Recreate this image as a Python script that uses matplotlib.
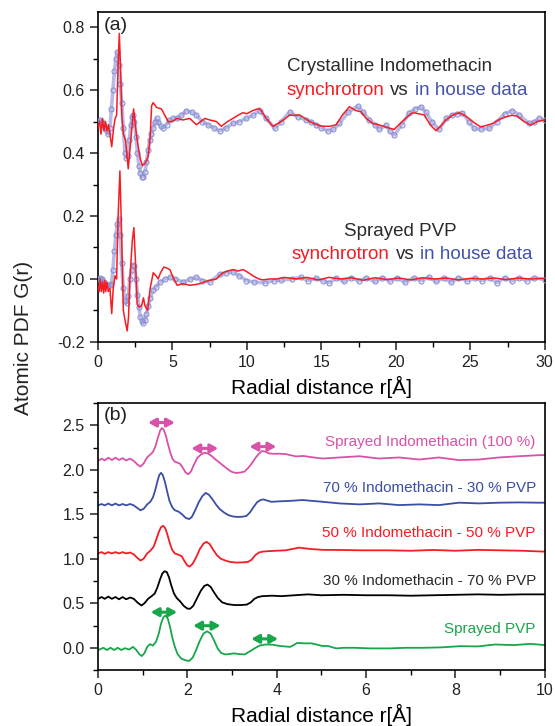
import matplotlib
matplotlib.use("Agg")
import matplotlib.pyplot as plt
from matplotlib.ticker import MultipleLocator, FormatStrFormatter

plt.rcParams['font.family'] = ['Liberation Sans', 'DejaVu Sans']

# ---- panel (a): crystalline indomethacin, synchrotron vs in house ----
cry_syn_r = [0.0, 0.1, 0.2, 0.3, 0.4, 0.5, 0.6, 0.7, 0.8, 0.92, 1.05, 1.15, 1.25, 1.35, 1.43, 1.52, 1.6, 1.7,
             1.85, 2.03, 2.2, 2.39, 2.55, 2.7, 2.85, 2.99, 3.2, 3.37, 3.5, 3.6, 3.7, 3.93, 4.26, 4.71, 5.0, 5.29,
             5.7, 6.16, 6.6, 6.9, 7.17, 7.5, 7.95, 8.28, 8.7, 9.06, 9.4, 9.73, 10.0, 10.4, 10.85, 11.3, 11.74,
             12.3, 12.86, 13.2, 13.53, 13.9, 14.2, 14.7, 15.09, 15.6, 15.99, 16.4, 16.88, 17.3, 17.66, 18.0,
             18.44, 18.8, 19.1, 19.5, 19.89, 20.3, 20.67, 21.0, 21.23, 21.5, 21.9, 22.3, 22.69, 23.0, 23.36,
             23.8, 24.25, 24.6, 24.9, 25.3, 25.7, 26.1, 26.5, 27.0, 27.4, 27.8, 28.15, 28.6, 29.05, 29.5, 30.0]
cry_syn_g = [0.48, 0.50, 0.46, 0.51, 0.47, 0.50, 0.47, 0.49, 0.46, 0.42, 0.48, 0.51, 0.52, 0.68, 0.78, 0.66, 0.52,
             0.46, 0.44, 0.35, 0.44, 0.54, 0.47, 0.42, 0.38, 0.36, 0.37, 0.39, 0.45, 0.55, 0.56, 0.545, 0.54, 0.50,
             0.50, 0.51, 0.505, 0.51, 0.49, 0.50, 0.51, 0.505, 0.50, 0.485, 0.50, 0.51, 0.52, 0.528, 0.525, 0.535,
             0.542, 0.51, 0.485, 0.50, 0.52, 0.52, 0.521, 0.51, 0.50, 0.49, 0.485, 0.485, 0.49, 0.52, 0.547, 0.535,
             0.531, 0.51, 0.494, 0.49, 0.486, 0.48, 0.475, 0.495, 0.51, 0.525, 0.528, 0.525, 0.521, 0.49, 0.471,
             0.485, 0.505, 0.52, 0.528, 0.52, 0.51, 0.495, 0.483, 0.488, 0.494, 0.508, 0.515, 0.52, 0.517, 0.50,
             0.489, 0.50, 0.505]

cry_lab_r = [0.0, 0.1, 0.2, 0.3, 0.4, 0.5, 0.6, 0.7, 0.8, 0.9, 1.0, 1.1, 1.2, 1.29, 1.4, 1.5, 1.59, 1.7, 1.81,
             1.9, 2.0, 2.1, 2.2, 2.3, 2.37, 2.45, 2.55, 2.65, 2.75, 2.85, 2.95, 3.04, 3.15, 3.25, 3.37, 3.48,
             3.59, 3.7, 3.8, 3.93, 4.05, 4.2, 4.38, 4.6, 4.8, 5.05, 5.3, 5.6, 5.94, 6.3, 6.61, 7.0, 7.39, 7.8,
             8.17, 8.6, 9.06, 9.5, 9.96, 10.4, 10.85, 11.3, 11.86, 12.3, 12.86, 13.42, 13.98, 14.3, 14.65, 15.0,
             15.43, 15.8, 16.21, 16.8, 17.44, 17.8, 18.22, 18.6, 18.89, 19.34, 19.6, 19.89, 20.4, 20.9, 21.3,
             21.68, 22.0, 22.4, 22.9, 23.4, 23.8, 24.1, 24.47, 24.9, 25.25, 25.7, 26.26, 26.8, 27.3, 27.82, 28.3,
             28.94, 29.3, 29.6, 30.0]
cry_lab_g = [0.50, 0.505, 0.50, 0.50, 0.49, 0.48, 0.47, 0.46, 0.48, 0.54, 0.60, 0.66, 0.70, 0.72, 0.68, 0.62,
             0.56, 0.48, 0.40, 0.385, 0.39, 0.44, 0.49, 0.515, 0.52, 0.50, 0.45, 0.40, 0.36, 0.335, 0.325, 0.325,
             0.34, 0.37, 0.41, 0.44, 0.46, 0.48, 0.50, 0.51, 0.50, 0.485, 0.48, 0.49, 0.505, 0.51, 0.51, 0.52,
             0.535, 0.53, 0.52, 0.50, 0.49, 0.48, 0.47, 0.48, 0.494, 0.50, 0.51, 0.52, 0.535, 0.51, 0.478, 0.50,
             0.53, 0.515, 0.505, 0.50, 0.489, 0.48, 0.47, 0.475, 0.494, 0.53, 0.549, 0.53, 0.505, 0.49, 0.475,
             0.489, 0.47, 0.457, 0.49, 0.528, 0.54, 0.547, 0.53, 0.50, 0.475, 0.51, 0.521, 0.525, 0.528, 0.50,
             0.478, 0.476, 0.478, 0.50, 0.525, 0.535, 0.52, 0.494, 0.50, 0.51, 0.505]

# ---- panel (a): sprayed PVP ----
pvp_syn_r = [0.0, 0.08, 0.15, 0.22, 0.3, 0.38, 0.45, 0.52, 0.6, 0.69, 0.8, 0.92, 1.02, 1.14, 1.25, 1.35, 1.47,
             1.58, 1.7, 1.85, 1.96, 2.05, 2.14, 2.3, 2.41, 2.52, 2.63, 2.78, 2.93, 3.05, 3.15, 3.33, 3.5, 3.71,
             3.9, 4.04, 4.2, 4.42, 4.6, 4.82, 5.0, 5.31, 5.7, 6.16, 6.5, 6.83, 7.4, 7.95, 8.39, 8.7, 9.06, 9.4,
             9.73, 10.1, 10.4, 10.8, 11.07, 11.5, 11.97, 12.5, 13.3, 14.0, 14.8, 15.5, 16.3, 17.0, 17.8, 18.6,
             19.4, 20.2, 21.0, 21.8, 22.6, 23.4, 24.2, 25.0, 25.8, 26.6, 27.4, 28.2, 29.0, 30.0]
pvp_syn_g = [-0.02, -0.04, 0.0, -0.04, -0.01, -0.045, -0.005, -0.04, -0.01, -0.04, -0.03, -0.11, -0.03, 0.01,
             0.0, 0.2, 0.343, 0.15, -0.10, -0.14, -0.165, -0.12, 0.0, 0.12, 0.163, 0.05, -0.08, -0.09, -0.085,
             -0.06, -0.085, -0.10, -0.03, 0.02, 0.01, 0.0, 0.02, 0.038, 0.035, 0.03, 0.01, -0.02, -0.015, -0.02,
             -0.018, -0.015, -0.005, 0.0, 0.02, 0.025, 0.03, 0.025, 0.03, 0.02, 0.01, 0.0, -0.003, 0.0, 0.0,
             0.005, 0.0, 0.005, -0.003, 0.005, 0.0, 0.004, -0.004, 0.004, -0.002, 0.003, -0.003, 0.004, 0.0,
             0.003, -0.003, 0.002, 0.0, 0.003, -0.002, 0.003, 0.0, 0.002]

pvp_lab_r = [0.0, 0.1, 0.2, 0.3, 0.4, 0.5, 0.6, 0.7, 0.8, 0.9, 1.0, 1.1, 1.2, 1.3, 1.41, 1.5, 1.59, 1.7, 1.81,
             1.92, 2.03, 2.14, 2.25, 2.35, 2.45, 2.55, 2.65, 2.75, 2.85, 2.95, 3.04, 3.15, 3.25, 3.37, 3.5, 3.71,
             3.9, 4.15, 4.5, 4.82, 5.2, 5.71, 6.2, 6.61, 7.0, 7.5, 8.17, 8.6, 9.06, 9.5, 9.96, 10.5, 11.19, 11.8,
             12.3, 13.0, 13.6, 14.1, 14.65, 15.1, 15.54, 16.0, 16.5, 17.0, 17.5, 18.0, 18.6, 19.1, 19.6, 20.1,
             20.6, 21.2, 21.7, 22.2, 22.7, 23.2, 23.7, 24.2, 24.8, 25.3, 25.8, 26.3, 26.8, 27.3, 27.8, 28.3, 28.8,
             29.3, 30.0]
pvp_lab_g = [0.0, 0.003, 0.0, 0.0, -0.01, -0.015, -0.02, -0.02, -0.02, -0.015, 0.03, 0.09, 0.14, 0.175, 0.19,
             0.14, 0.05, -0.03, -0.07, -0.075, -0.055, 0.0, 0.03, 0.045, 0.04, 0.0, -0.05, -0.09, -0.12, -0.135,
             -0.139, -0.13, -0.11, -0.085, -0.06, -0.035, -0.025, -0.01, 0.0, 0.005, 0.0, -0.01, 0.0, 0.005,
             -0.005, -0.01, 0.015, 0.02, 0.022, 0.01, -0.005, -0.01, -0.012, -0.005, -0.004, 0.0, 0.005, -0.005,
             0.002, -0.005, -0.012, 0.003, -0.008, 0.004, -0.006, 0.003, -0.008, 0.004, -0.006, 0.003, -0.01,
             0.004, -0.005, 0.005, -0.008, 0.003, -0.01, 0.004, -0.006, 0.003, -0.005, 0.004, -0.012, 0.004,
             -0.006, 0.003, -0.005, 0.004, -0.002]

# ---- panel (b): sprayed mixtures ----
ind100_r = [0.0, 0.08, 0.15, 0.23, 0.31, 0.39, 0.47, 0.55, 0.63, 0.72, 0.8, 0.88, 0.95, 1.02, 1.1, 1.17, 1.23,
            1.29, 1.34, 1.39, 1.43, 1.47, 1.52, 1.57, 1.62, 1.67, 1.72, 1.78, 1.84, 1.9, 1.96, 2.02, 2.08, 2.14,
            2.22, 2.3, 2.38, 2.45, 2.53, 2.62, 2.72, 2.82, 2.92, 3.0, 3.08, 3.18, 3.28, 3.36, 3.44, 3.52, 3.6,
            3.67, 3.74, 3.82, 3.9, 4.05, 4.21, 4.43, 4.6, 4.8, 5.03, 5.4, 5.85, 6.29, 6.74, 7.19, 7.63, 8.08,
            8.53, 8.97, 9.42, 9.87, 10.0]
ind100_g = [2.10, 2.125, 2.105, 2.135, 2.11, 2.135, 2.11, 2.13, 2.105, 2.125, 2.10, 2.06, 2.035, 2.07, 2.14,
            2.17, 2.20, 2.27, 2.36, 2.44, 2.47, 2.45, 2.38, 2.28, 2.19, 2.12, 2.09, 2.08, 2.065, 2.02, 1.97,
            1.95, 1.98, 2.05, 2.13, 2.17, 2.19, 2.185, 2.16, 2.12, 2.08, 2.04, 2.0, 1.975, 1.965, 1.968, 1.98,
            2.02, 2.07, 2.13, 2.18, 2.21, 2.205, 2.185, 2.18, 2.18, 2.175, 2.15, 2.155, 2.14, 2.126, 2.138,
            2.152, 2.126, 2.138, 2.115, 2.138, 2.108, 2.115, 2.138, 2.152, 2.164, 2.165]

ind70_r = [0.0, 0.08, 0.15, 0.23, 0.31, 0.39, 0.47, 0.55, 0.63, 0.72, 0.8, 0.88, 0.95, 1.02, 1.1, 1.17, 1.23,
           1.28, 1.33, 1.37, 1.41, 1.45, 1.5, 1.55, 1.6, 1.66, 1.72, 1.8, 1.88, 1.96, 2.04, 2.1, 2.17, 2.25,
           2.33, 2.41, 2.48, 2.56, 2.64, 2.72, 2.82, 2.92, 3.02, 3.12, 3.22, 3.32, 3.4, 3.48, 3.56, 3.64, 3.7,
           3.78, 3.88, 4.05, 4.29, 4.58, 4.8, 5.03, 5.4, 5.85, 6.29, 6.74, 7.19, 7.63, 8.08, 8.53, 8.97, 9.42,
           9.87, 10.0]
ind70_g = [1.60, 1.615, 1.60, 1.62, 1.60, 1.62, 1.60, 1.615, 1.60, 1.615, 1.60, 1.57, 1.545, 1.56, 1.61, 1.64,
           1.69, 1.77, 1.87, 1.94, 1.965, 1.94, 1.86, 1.75, 1.65, 1.58, 1.545, 1.53, 1.50, 1.46, 1.446, 1.47,
           1.54, 1.63, 1.70, 1.74, 1.72, 1.67, 1.61, 1.56, 1.52, 1.49, 1.475, 1.47, 1.472, 1.48, 1.52, 1.58,
           1.635, 1.66, 1.667, 1.655, 1.64, 1.645, 1.65, 1.66, 1.65, 1.64, 1.622, 1.611, 1.622, 1.603, 1.611,
           1.603, 1.63, 1.622, 1.63, 1.633, 1.63, 1.63]

ind50_r = [0.0, 0.08, 0.15, 0.23, 0.31, 0.39, 0.47, 0.55, 0.63, 0.72, 0.8, 0.88, 0.95, 1.02, 1.1, 1.17, 1.24,
           1.3, 1.36, 1.41, 1.46, 1.51, 1.56, 1.61, 1.66, 1.72, 1.8, 1.87, 1.94, 2.0, 2.05, 2.12, 2.2, 2.28,
           2.36, 2.43, 2.5, 2.58, 2.66, 2.75, 2.85, 2.95, 3.1, 3.25, 3.36, 3.44, 3.52, 3.6, 3.68, 3.8, 3.98,
           4.2, 4.5, 4.75, 5.03, 5.4, 5.9, 6.5, 7.0, 7.5, 8.0, 8.5, 9.0, 9.5, 10.0]
ind50_g = [1.06, 1.075, 1.055, 1.075, 1.06, 1.075, 1.06, 1.075, 1.06, 1.07, 1.05, 1.01, 0.98, 1.0, 1.06, 1.09,
           1.13, 1.21, 1.30, 1.355, 1.37, 1.34, 1.26, 1.17, 1.10, 1.06, 1.045, 1.03, 0.97, 0.925, 0.912, 0.945,
           1.02, 1.11, 1.17, 1.19, 1.165, 1.10, 1.04, 1.0, 0.98, 0.965, 0.957, 0.96, 0.965, 0.99, 1.04, 1.07,
           1.08, 1.085, 1.09, 1.095, 1.125, 1.11, 1.10, 1.099, 1.095, 1.095, 1.09, 1.099, 1.09, 1.10, 1.095,
           1.09, 1.08]

ind30_r = [0.0, 0.08, 0.15, 0.23, 0.31, 0.39, 0.47, 0.55, 0.63, 0.72, 0.8, 0.88, 0.97, 1.04, 1.12, 1.2, 1.27,
           1.33, 1.39, 1.44, 1.49, 1.54, 1.59, 1.64, 1.7, 1.76, 1.84, 1.92, 2.0, 2.06, 2.13, 2.21, 2.3, 2.38,
           2.45, 2.52, 2.6, 2.68, 2.78, 2.9, 3.05, 3.2, 3.33, 3.42, 3.5, 3.58, 3.68, 3.9, 4.1, 4.4, 4.7, 5.0,
           5.5, 6.0, 6.5, 7.0, 7.5, 8.0, 8.5, 9.0, 9.5, 10.0]
ind30_g = [0.55, 0.57, 0.55, 0.575, 0.55, 0.57, 0.545, 0.57, 0.545, 0.565, 0.55, 0.51, 0.475, 0.50, 0.55, 0.58,
           0.61, 0.68, 0.77, 0.835, 0.86, 0.85, 0.79, 0.70, 0.61, 0.56, 0.52, 0.47, 0.44, 0.438, 0.47, 0.55,
           0.64, 0.695, 0.71, 0.685, 0.62, 0.56, 0.51, 0.49, 0.48, 0.48, 0.485, 0.51, 0.55, 0.57, 0.58, 0.585,
           0.58, 0.59, 0.60, 0.59, 0.595, 0.59, 0.59, 0.585, 0.59, 0.595, 0.60, 0.595, 0.60, 0.60]

pvp_r = [0.03, 0.12, 0.2, 0.28, 0.36, 0.44, 0.52, 0.6, 0.7, 0.78, 0.85, 0.92, 0.98, 1.04, 1.1, 1.16, 1.23, 1.3,
         1.36, 1.41, 1.46, 1.51, 1.56, 1.61, 1.66, 1.72, 1.78, 1.86, 1.95, 2.04, 2.12, 2.2, 2.28, 2.36, 2.44,
         2.52, 2.6, 2.68, 2.76, 2.85, 2.95, 3.04, 3.15, 3.28, 3.4, 3.51, 3.62, 3.75, 3.9, 4.07, 4.3, 4.38, 4.46,
         4.6, 4.78, 5.02, 5.15, 5.33, 5.5, 5.73, 6.1, 6.52, 6.9, 7.31, 7.7, 8.1, 8.5, 8.89, 9.3, 9.68, 10.0]
pvp_g = [-0.02, 0.0, -0.025, 0.0, -0.025, 0.0, -0.025, -0.005, -0.02, 0.01, -0.02, -0.07, -0.093, -0.06, 0.01,
         0.04, 0.025, 0.07, 0.16, 0.27, 0.34, 0.363, 0.33, 0.24, 0.12, 0.01, -0.07, -0.12, -0.14, -0.148, -0.11,
         -0.02, 0.08, 0.16, 0.185, 0.16, 0.08, -0.01, -0.06, -0.075, -0.07, -0.063, -0.07, -0.075, -0.04,
         -0.005, 0.025, 0.037, 0.035, 0.02, 0.01, 0.03, 0.055, 0.05, 0.05, 0.02, 0.02, -0.007, 0.0, 0.0, -0.007,
         -0.007, 0.0, 0.0, 0.005, 0.018, 0.015, 0.037, 0.03, 0.044, 0.03]

mix_labels = ["Sprayed Indomethacin (100 %)", "70 % Indomethacin - 30 % PVP", "50 % Indomethacin - 50 % PVP",
              "30 % Indomethacin - 70 % PVP", "Sprayed PVP"]
mix_label_y = [2.31, 1.79, 1.29, 0.745, 0.215]

# peak-shift arrows (r start, r end, height)
pink_arrows = [(1.12, 1.72, 2.53), (2.09, 2.69, 2.24), (3.39, 3.99, 2.26)]
green_arrows = [(1.18, 1.77, 0.40), (2.13, 2.74, 0.248), (3.43, 4.03, 0.10)]

RED = '#f51c24'
LAB = '#8d91d2'
DARK = '#2b2b2b'
INBLUE = '#4452ad'
PINK = '#d951a8'
BLUE = '#3a4ea6'
GREEN = '#18a64a'

fig = plt.figure(figsize=(5.55, 7.26), dpi=100)
ax1 = fig.add_axes([0.1766, 0.529, 0.805, 0.4545])
ax2 = fig.add_axes([0.1766, 0.0771, 0.805, 0.3678])

# panel (a)
for r, g in [(cry_lab_r, cry_lab_g), (pvp_lab_r, pvp_lab_g)]:
    ax1.plot(r, g, color='#b9bbe6', lw=2.6, zorder=2)
    ax1.plot(r, g, ls='none', marker='o', ms=3.6, mfc='none', mec=LAB, mew=0.8, zorder=3)
ax1.plot(cry_syn_r, cry_syn_g, color=RED, lw=1.1, zorder=4)
ax1.plot(pvp_syn_r, pvp_syn_g, color=RED, lw=1.1, zorder=4)

ax1.set_xlim(0, 30)
ax1.set_ylim(-0.2, 0.848)
ax1.xaxis.set_major_locator(MultipleLocator(5))
ax1.xaxis.set_minor_locator(MultipleLocator(2.5))
ax1.yaxis.set_major_locator(MultipleLocator(0.2))
ax1.yaxis.set_minor_locator(MultipleLocator(0.1))
ax1.yaxis.set_major_formatter(FormatStrFormatter('%.1f'))
ax1.set_xlabel("Radial distance r[Å]", fontsize=15, labelpad=4)
ax1.text(0.012, 0.985, "(a)", transform=ax1.transAxes, fontsize=14, ha='left', va='top', color='#222222')

ax1.text(19.6, 0.675, "Crystalline Indomethacin", fontsize=13.5, color=DARK, ha='center', va='center')
ax1.text(19.2, 0.60, "synchrotron", fontsize=13.5, color=RED, ha='right', va='center')
ax1.text(20.25, 0.60, "vs", fontsize=13.5, color=DARK, ha='center', va='center')
ax1.text(21.3, 0.60, "in house data", fontsize=13.5, color=INBLUE, ha='left', va='center')

ax1.text(20.3, 0.152, "Sprayed PVP", fontsize=13.5, color=DARK, ha='center', va='center')
ax1.text(19.55, 0.078, "synchrotron", fontsize=13.5, color=RED, ha='right', va='center')
ax1.text(20.6, 0.078, "vs", fontsize=13.5, color=DARK, ha='center', va='center')
ax1.text(21.65, 0.078, "in house data", fontsize=13.5, color=INBLUE, ha='left', va='center')

# panel (b)
curves = [(ind100_r, ind100_g, PINK), (ind70_r, ind70_g, BLUE), (ind50_r, ind50_g, RED),
          (ind30_r, ind30_g, 'black'), (pvp_r, pvp_g, GREEN)]
for (r, g, c), lab, ly in zip(curves, mix_labels, mix_label_y):
    ax2.plot(r, g, color=c, lw=1.3)
    ax2.text(9.8, ly, lab, color=c if c != 'black' else DARK, fontsize=11, ha='right', va='center')

for arrows, c in [(pink_arrows, PINK), (green_arrows, GREEN)]:
    for r1, r2, y in arrows:
        ax2.annotate('', xy=(r2, y), xytext=(r1, y),
                     arrowprops=dict(arrowstyle='<|-|>,head_length=0.45,head_width=0.25', color=c, lw=2.2,
                                     shrinkA=0, shrinkB=0))

ax2.set_xlim(0, 10)
ax2.set_ylim(-0.25, 2.75)
ax2.xaxis.set_major_locator(MultipleLocator(2))
ax2.xaxis.set_minor_locator(MultipleLocator(1))
ax2.yaxis.set_major_locator(MultipleLocator(0.5))
ax2.yaxis.set_minor_locator(MultipleLocator(0.25))
ax2.yaxis.set_major_formatter(FormatStrFormatter('%.1f'))
ax2.set_xlabel("Radial distance r[Å]", fontsize=15, labelpad=4)
ax2.text(0.012, 0.985, "(b)", transform=ax2.transAxes, fontsize=14, ha='left', va='top', color='#222222')

for ax in (ax1, ax2):
    for s in ax.spines.values():
        s.set_linewidth(1.2)
    ax.tick_params(which='major', direction='out', length=6, width=1.1, labelsize=11.5, colors='#222222',
                   top=False, right=False)
    ax.tick_params(which='minor', direction='out', length=3.5, width=1.0, top=False, right=False)

fig.text(0.042, 0.535, "Atomic PDF G(r)", rotation=90, fontsize=15, ha='center', va='center', color='#222222')

fig.savefig("out.png", dpi=100)
